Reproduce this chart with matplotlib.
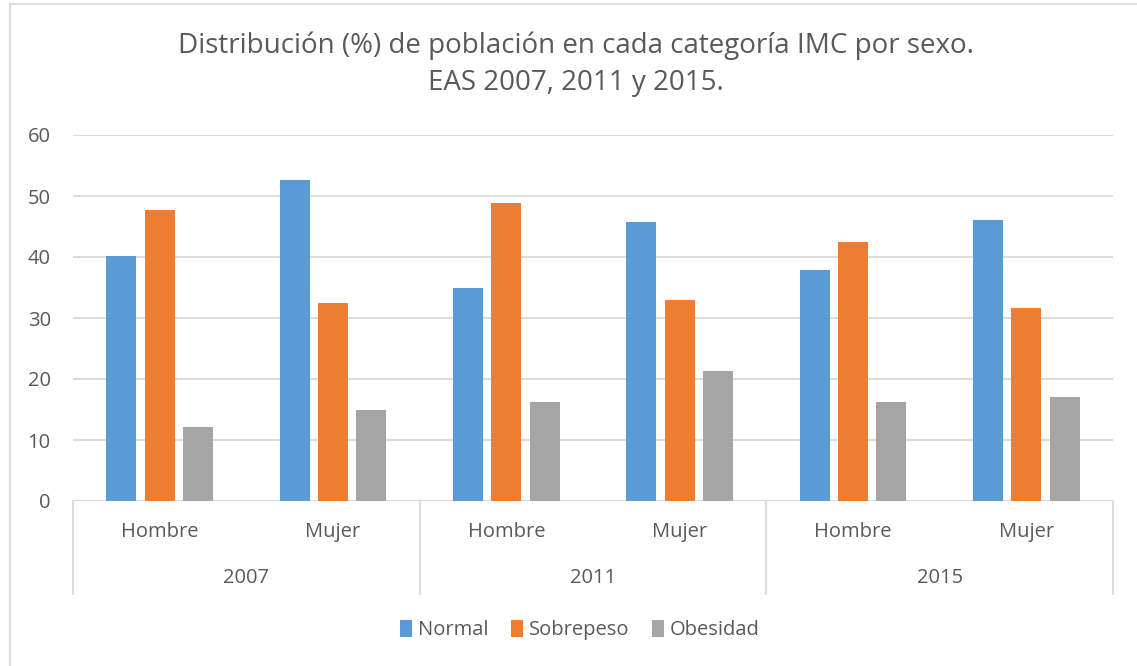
import matplotlib
matplotlib.use("Agg")
import matplotlib.pyplot as plt
from matplotlib.patches import Patch
from matplotlib.lines import Line2D
import numpy as np

years = ["2007", "2011", "2015"]
sexes = ["Hombre", "Mujer"]
series_names = ["Normal", "Sobrepeso", "Obesidad"]
normal = [40.2, 52.6, 35.0, 45.8, 37.8, 46.0]
sobrepeso = [47.7, 32.4, 48.8, 33.0, 42.5, 31.6]
obesidad = [12.1, 14.9, 16.2, 21.3, 16.2, 17.0]
colors = ["#5B9BD5", "#ED7D31", "#A5A5A5"]
yticks = [0, 10, 20, 30, 40, 50, 60]

plt.rcParams['font.family'] = ['Open Sans', 'DejaVu Sans']
W, H = 1137, 666
fig = plt.figure(figsize=(W / 100, H / 100), dpi=100)

def px(x0, y0, x1, y1):
    return [x0 / W, 1 - y1 / H, (x1 - x0) / W, (y1 - y0) / H]

ax = fig.add_axes(px(73, 135, 1113, 501))
x = np.arange(len(normal))
step = 0.222
width = 0.173
for i, (vals, c) in enumerate(zip([normal, sobrepeso, obesidad], colors)):
    ax.bar(x + (i - 1) * step, vals, width, color=c, zorder=3)

ax.set_xlim(-0.5, 5.5)
ax.set_ylim(0, 60)
ax.set_yticks(yticks)
ax.yaxis.grid(True, color="#D9D9D9", linewidth=1.3, zorder=0)
for s in ["top", "right", "left", "bottom"]:
    ax.spines[s].set_visible(False)
ax.axhline(0, color="#D9D9D9", linewidth=1.3, zorder=2)
ax.tick_params(axis="y", length=0, pad=16, labelsize=14.5, labelcolor="#595959")
ax.tick_params(axis="x", length=0)
ax.set_xticks([])

trans = ax.get_xaxis_transform()
axh = 366
for xv in [-0.5, 1.5, 3.5, 5.5]:
    ax.add_line(Line2D([xv, xv], [0, -(594 - 501) / axh], transform=trans,
                       color="#D9D9D9", linewidth=1.3, clip_on=False))
labels = sexes * 3
for xi, lab in zip(x, labels):
    ax.text(xi, -(532 - 501) / axh, lab, transform=trans, ha="center", va="center",
            fontsize=14.5, color="#595959")
for k, yr in enumerate(years):
    ax.text(2 * k + 0.5, -(578 - 501) / axh, yr, transform=trans, ha="center", va="center",
            fontsize=14.5, color="#595959")

fig.text(576 / W, 1 - 46 / H, "Distribución (%) de población en cada categoría IMC por sexo.",
         ha="center", va="center", fontsize=20, color="#595959")
fig.text(576 / W, 1 - 83 / H, "EAS 2007, 2011 y 2015.",
         ha="center", va="center", fontsize=20, color="#595959")

handles = [Patch(facecolor=c, edgecolor="none") for c in colors]
fig.legend(handles, series_names, loc="center", bbox_to_anchor=(580 / W, 1 - 630 / H),
           ncol=3, frameon=False, fontsize=14.5, handlelength=0.6, handleheight=0.9,
           handletextpad=0.3, columnspacing=1.1, labelcolor="#595959")

# outer chart border (left and top visible)
fig.add_artist(Line2D([9.5 / W, 9.5 / W], [0, 1 - 3.5 / H], transform=fig.transFigure,
                      color="#D9D9D9", linewidth=1.3))
fig.add_artist(Line2D([9.5 / W, 1], [1 - 3.5 / H, 1 - 3.5 / H], transform=fig.transFigure,
                      color="#D9D9D9", linewidth=1.3))

fig.savefig("out.png", dpi=100)
